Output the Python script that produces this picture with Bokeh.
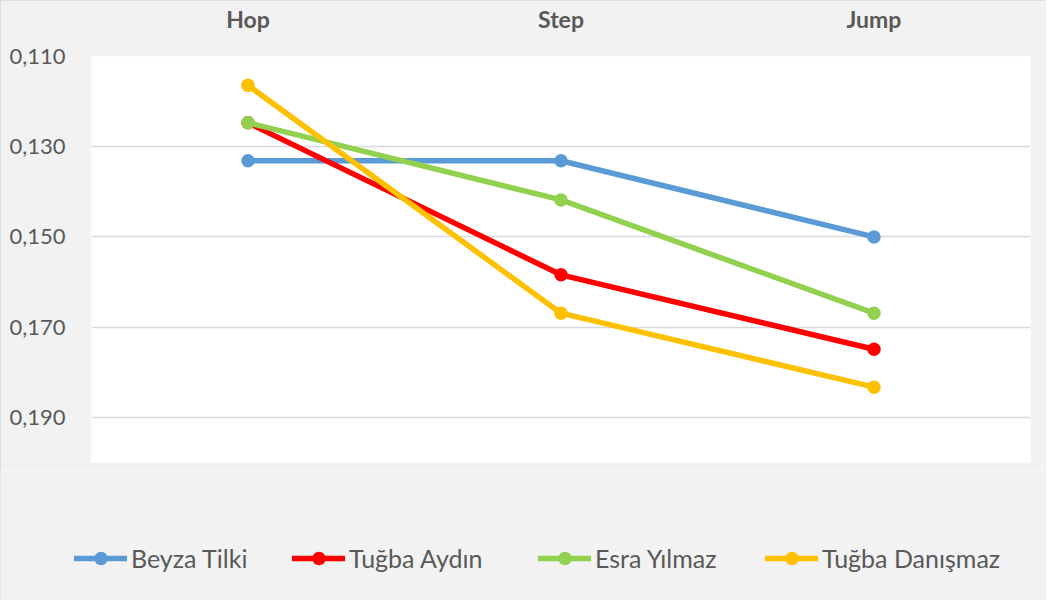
from bokeh.plotting import figure
from bokeh.layouts import column
from bokeh.models import (FactorRange, Range1d, FixedTicker, CustomJSTickFormatter,
                          Legend, LegendItem)
from bokeh.embed import file_html
from bokeh.resources import INLINE

categories = ["Hop", "Step", "Jump"]
series_names = ["Beyza Tilki", "Tuğba Aydın", "Esra Yılmaz", "Tuğba Danışmaz"]
beyza = [0.1331, 0.1331, 0.1500]
tugba_aydin = [0.1247, 0.1584, 0.1749]
esra = [0.1247, 0.1418, 0.1669]
tugba_danismaz = [0.1164, 0.1669, 0.1833]
y_ticks = [0.110, 0.130, 0.150, 0.170, 0.190]
colors = ["#5b9bd5", "#ff0000", "#92d050", "#ffc000"]
series = [beyza, tugba_aydin, esra, tugba_danismaz]

FONT = "Lato"
TXT = "#595959"
BG = "#f2f2f2"
W = 1046

p = figure(width=W, height=470, output_backend="svg", toolbar_location=None,
           x_range=FactorRange(*categories, range_padding=0),
           y_range=Range1d(start=0.200, end=0.110),
           x_axis_location="above",
           min_border_left=91, min_border_right=16, min_border_top=56, min_border_bottom=8)
p.frame_align = False
p.border_fill_color = BG
p.background_fill_color = "white"
p.outline_line_color = None

xa = p.xaxis[0]
xa.axis_line_color = None
xa.major_tick_line_color = None
xa.minor_tick_line_color = None
xa.major_label_standoff = 18
xa.major_label_text_font = FONT
xa.major_label_text_font_size = "23px"
xa.major_label_text_font_style = "bold"
xa.major_label_text_color = TXT

ya = p.yaxis[0]
ya.ticker = FixedTicker(ticks=y_ticks)
ya.formatter = CustomJSTickFormatter(code="return tick.toFixed(3).replace('.', ',');")
ya.axis_line_color = None
ya.major_tick_line_color = None
ya.minor_tick_line_color = None
ya.major_label_standoff = 20
ya.major_label_text_font = FONT
ya.major_label_text_font_size = "22px"
ya.major_label_text_color = TXT

p.xgrid.grid_line_color = None
p.ygrid.grid_line_color = "#d9d9d9"
p.ygrid.grid_line_width = 1.5

for vals, c in zip(series, colors):
    p.line(categories, vals, line_color=c, line_width=5.5, line_cap="round", line_join="round")
    p.scatter(categories, vals, size=13.5, fill_color=c, line_color=c, line_width=0)

# legend strip below the chart (its renderers hold the same series, outside its view)
lf = figure(width=W, height=130, output_backend="svg", toolbar_location=None,
            x_range=FactorRange(*categories), y_range=Range1d(1, 2),
            min_border=0, x_axis_type=None, y_axis_type=None)
lf.frame_align = False
lf.border_fill_color = BG
lf.background_fill_color = BG
lf.outline_line_color = None
lf.grid.visible = False

legend_x = [74, 292, 538, 765]
for name, vals, c, lx in zip(series_names, series, colors, legend_x):
    l = lf.line(categories, vals, line_color=c, line_width=5.5, line_cap="round")
    s = lf.scatter(categories, vals, size=13, fill_color=c, line_color=c, line_width=0)
    lg = Legend(items=[LegendItem(label=name, renderers=[l, s])], location=(lx, 25),
                padding=0, margin=0, glyph_width=53, glyph_height=34,
                label_standoff=4, border_line_color=None, background_fill_alpha=0,
                label_text_font=FONT, label_text_font_size="25px", label_text_color=TXT)
    lf.add_layout(lg, "center")

layout = column(p, lf, spacing=0,
                styles={"outline": "1px solid #d9d9d9", "outline-offset": "-1px"})

open("out.html", "w").write(file_html(layout, INLINE))
